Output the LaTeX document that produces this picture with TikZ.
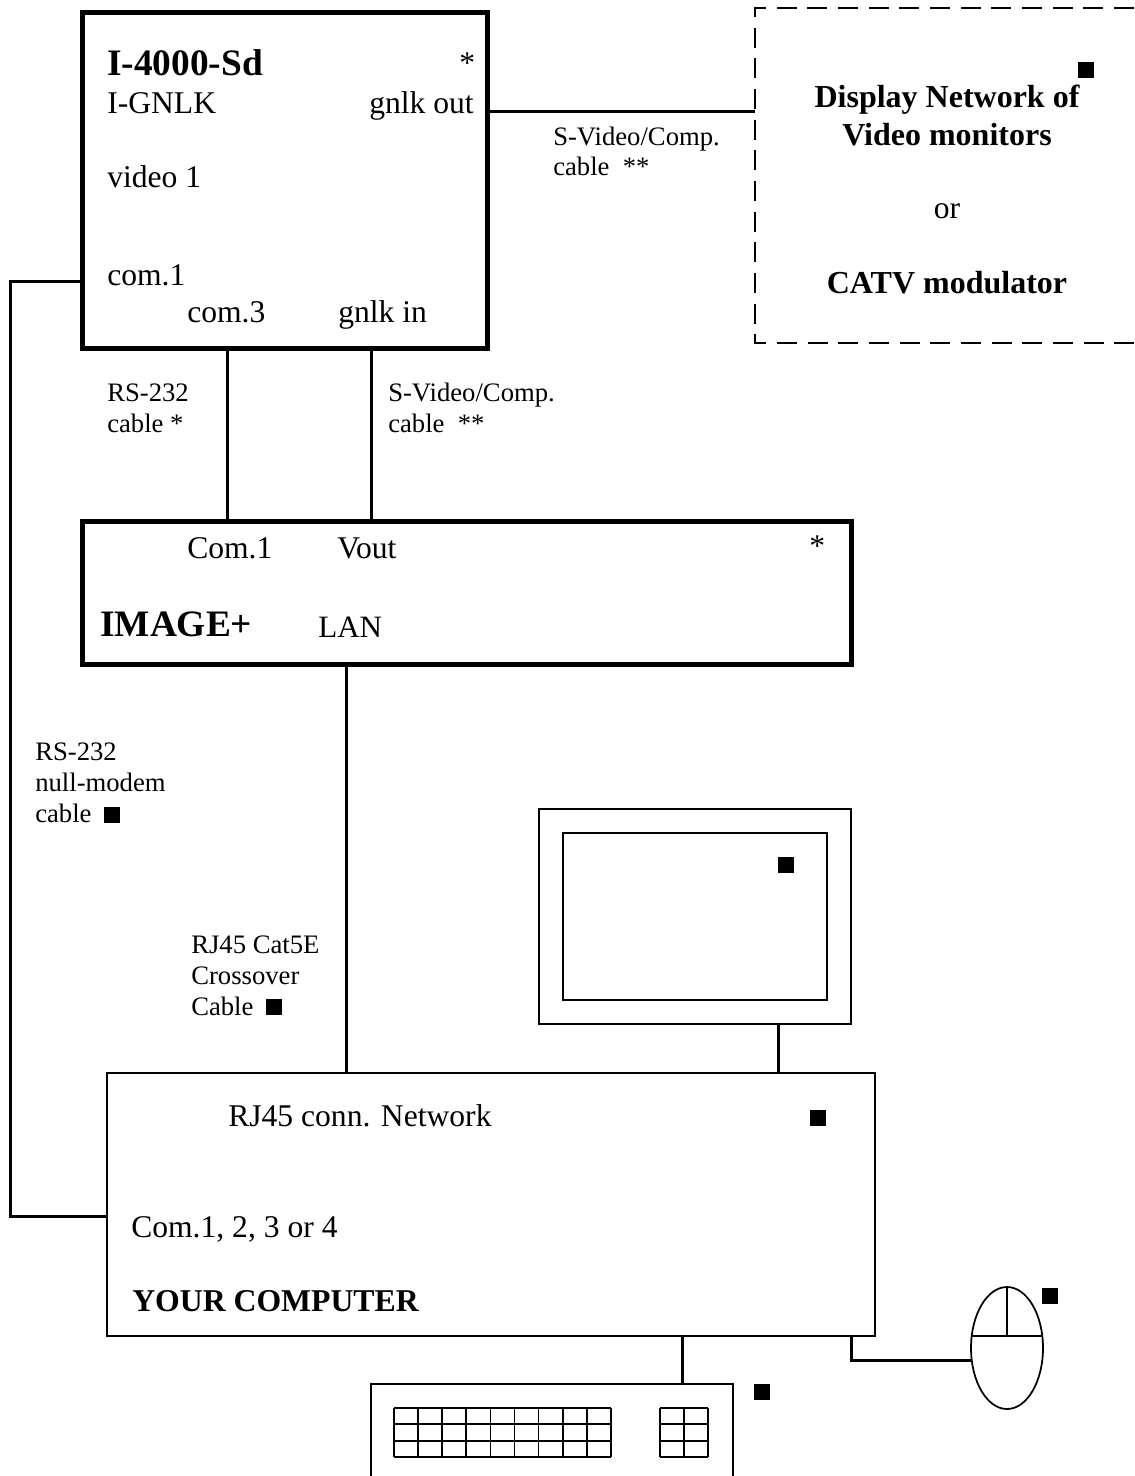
\documentclass[tikz,border=0pt]{standalone}
\usepackage{fontspec}
\setmainfont{Liberation Serif}
\usetikzlibrary{shapes.geometric}

\begin{document}
\begin{tikzpicture}[x=.75pt,y=-.75pt,
  unit/.style={draw,line width=3.75pt,inner sep=0pt,outer sep=0pt},
  plainbox/.style={draw,line width=1.3pt,inner sep=0pt,outer sep=0pt},
  cable/.style={line width=2.25pt},
  thinline/.style={line width=1.3pt},
  lbl/.style={anchor=base west,inner sep=0pt,font=\fontsize{23.7}{24}\selectfont},
  note/.style={anchor=base west,inner sep=0pt,align=left,font=\fontsize{20}{23}\selectfont},
  head/.style={anchor=base west,inner sep=0pt,font=\fontsize{28}{28}\selectfont\bfseries},
  title/.style={anchor=base,inner sep=0pt,font=\fontsize{24}{24}\selectfont\bfseries},
  blacksq/.style={fill=black,inner sep=0pt,outer sep=0pt,minimum size=12pt}
]
  \useasboundingbox (0,0) rectangle (1134,1476);

  % boxes
  \node[unit,minimum width=303.75pt,minimum height=251.25pt] (isd) at (284.5,180.5) {};
  \node[unit,minimum width=576.75pt,minimum height=107.25pt] (image) at (466.5,592.5) {};
  \node[plainbox,minimum width=576pt,minimum height=197.25pt] (computer) at (491,1204.5) {};
  \node[plainbox,minimum width=234pt,minimum height=161.25pt] (monitor) at (695,916.5) {};
  \node[plainbox,minimum width=198pt,minimum height=125.25pt] (screen) at (695,916.5) {};
  \node[plainbox,shape=ellipse,minimum width=54pt,minimum height=91.5pt] (mouse) at (1007,1348) {};

  % boxes running off the page
  \draw[thinline,dash pattern=on 15pt off 8pt] (1134,8) -- (755,8) -- (755,343) -- (1134,343);
  \coordinate (display) at (755,112);
  \draw[thinline] (371,1476) |- (733,1384) -- (733,1476);
  \coordinate (keyboard) at (682,1384);

  % keys
  \foreach \i in {0,...,9} \draw[thinline] (394+\i*24.1,1408) -- (394+\i*24.1,1457);
  \foreach \i in {0,...,2} \draw[thinline] (660+\i*24,1408) -- (660+\i*24,1457);
  \foreach \j in {0,...,3} {
    \draw[thinline] (394,1408+\j*16.33) -- (611,1408+\j*16.33);
    \draw[thinline] (660,1408+\j*16.33) -- (708,1408+\j*16.33);
  }

  % mouse buttons
  \draw[thinline] (mouse.161) -- (mouse.19);
  \draw[thinline] (mouse.north) -- (mouse.north |- mouse.161);

  % cables
  \draw[cable] (isd.east |- display) -- (display);
  \draw[cable] (isd.south -| 227,0) -- (image.north -| 227,0);
  \draw[cable] (isd.south -| 371,0) -- (image.north -| 371,0);
  \draw[cable] (image.south -| 346,0) -- (computer.north -| 346,0);
  \draw[cable] (isd.west |- 0,282) -| (10,1216) -- (computer.west |- 0,1216);
  \draw[cable] (monitor.south -| 778,0) -- (computer.north -| 778,0);
  \draw[cable] (computer.south -| keyboard) -- (keyboard);
  \draw[cable] (computer.south -| 851,0) |- (mouse.199);

  % I-4000-Sd
  \node[head] (isdname) at (107,76) {I-4000-Sd};
  \node[lbl] (isdstar) at (459,74) {*};
  \node[lbl] (gnlk) at (107,114) {I-GNLK};
  \node[lbl] (gnlkout) at (369,114) {gnlk out};
  \node[lbl] (video) at (107,188) {video 1};
  \node[lbl] (comone) at (107,286) {com.1};
  \node[lbl] (comthree) at (187,323) {com.3};
  \node[lbl] (gnlkin) at (338,323) {gnlk in};

  % display
  \node[title] (displayname) at (947,108) {Display Network of};
  \node[title] (videomon) at (947,146) {Video monitors};
  \node[lbl,anchor=base] (ortext) at (947,219) {or};
  \node[title] (catv) at (947,294) {CATV modulator};

  % IMAGE+
  \node[lbl] (imgcom) at (187,558) {Com.1};
  \node[lbl] (vout) at (337,558) {Vout};
  \node[lbl] (imgstar) at (809,556) {*};
  \node[head] (imgname) at (100,636) {IMAGE+};
  \node[lbl,font=\fontsize{23.3}{23.3}\selectfont] (lan) at (318,637) {LAN};

  % computer
  \node[lbl] (rjconn) at (228,1126) {RJ45 conn. Network};
  \node[lbl] (ports) at (131,1237) {Com.1, 2, 3 or 4};
  \node[lbl,font=\fontsize{23.8}{24}\selectfont\bfseries] (compname) at (132,1311) {YOUR COMPUTER};

  % cable labels
  \node[note] (svidone) at (553,176) {S-Video/Comp.\\cable\ \ **};
  \node[note] (rscable) at (107,432) {RS-232\\cable *};
  \node[note] (svidtwo) at (388,432) {S-Video/Comp.\\cable\ \ **};
  \node[note] (nullmodem) at (35,822) {RS-232\\null-modem\\cable};
  \node[note] (crossover) at (191,1015) {RJ45 Cat5E\\Crossover\\Cable};

  % black squares
  \node[blacksq] (sqdisplay) at (1086,70) {};
  \node[blacksq] (sqnull) at (112,815) {};
  \node[blacksq] (sqcross) at (274,1007) {};
  \node[blacksq] (sqmonitor) at (786,865) {};
  \node[blacksq] (sqcomputer) at (818,1118) {};
  \node[blacksq] (sqmouse) at (1050,1296) {};
  \node[blacksq] (sqkeyboard) at (762,1392) {};
\end{tikzpicture}
\end{document}
